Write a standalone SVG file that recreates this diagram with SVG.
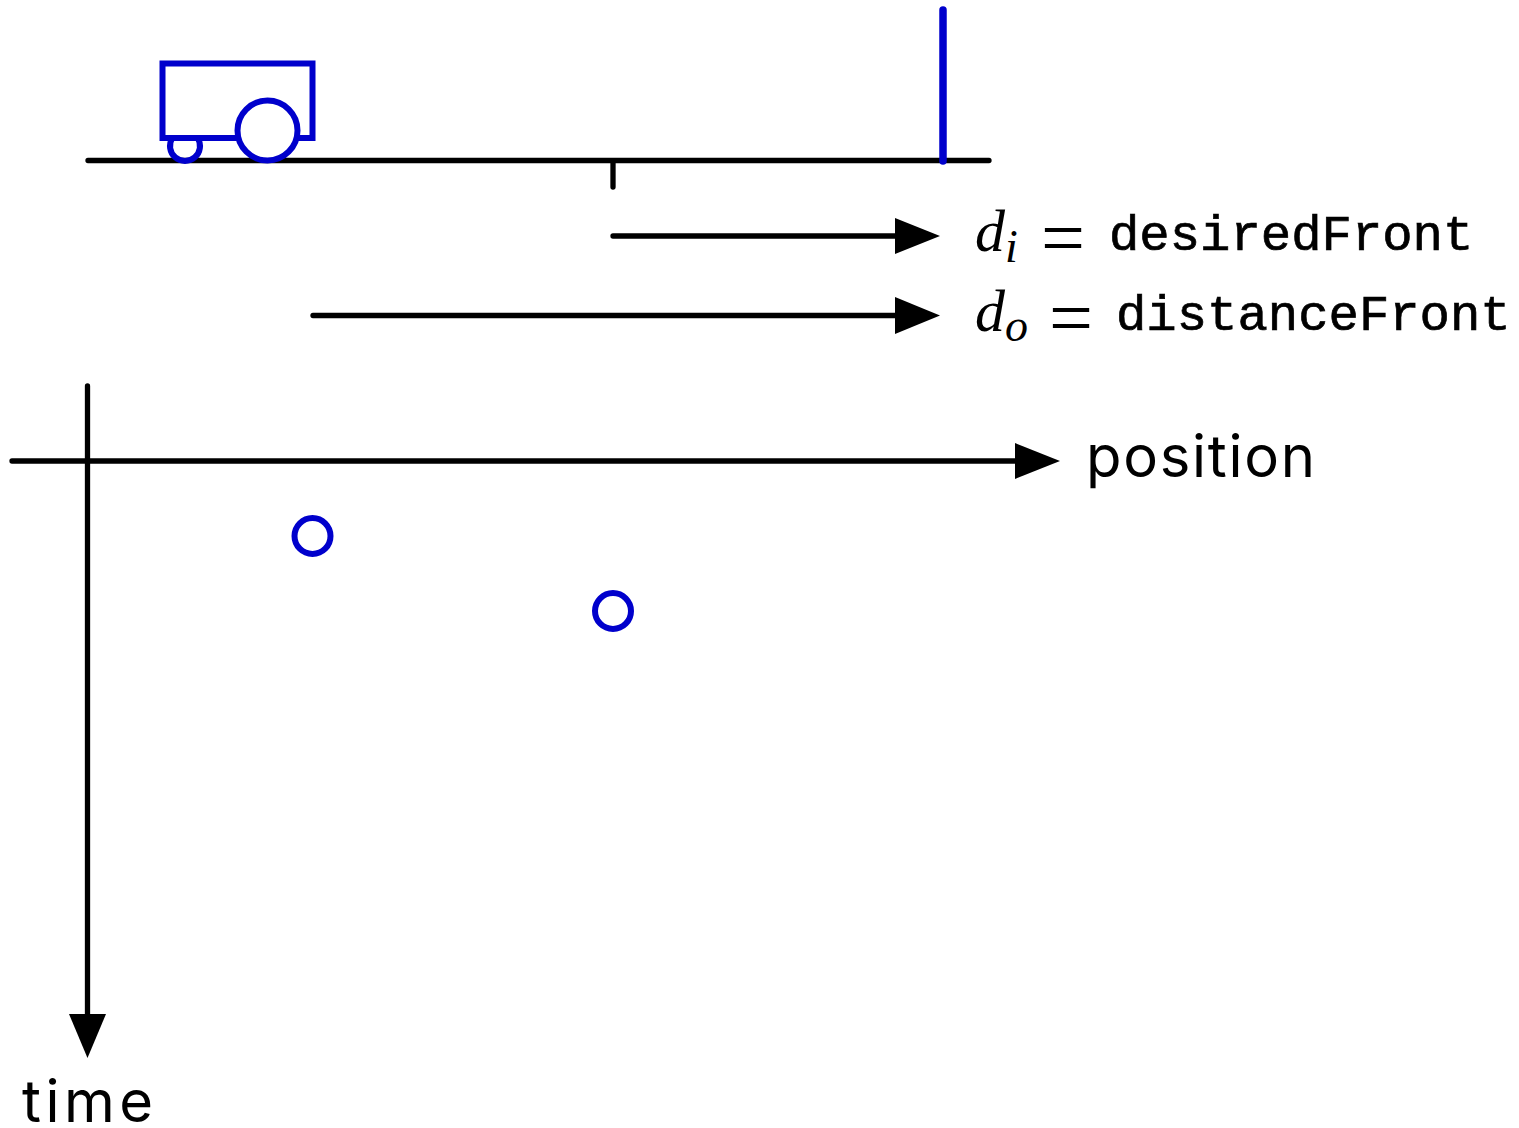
<svg xmlns="http://www.w3.org/2000/svg" width="1519" height="1128" viewBox="0 0 1519 1128">
<style>
.k{stroke:#000;stroke-width:5.3;fill:none;stroke-linecap:round}
.b{stroke:#0000cc;stroke-width:6;fill:none}
.ah{fill:#000;stroke:none}
.s{font-family:"Inter","Lato",sans-serif;font-size:58px;fill:#000;font-variant-ligatures:none}
.m{font-family:"Liberation Serif",serif;font-style:italic;font-size:60px;fill:#000}
.sub{font-family:"Liberation Serif",serif;font-style:italic;font-size:46px;fill:#000}
.eq{font-family:"Liberation Serif",serif;font-size:78px;fill:#000}
.t{font-family:"Liberation Mono",monospace;font-size:50.6px;fill:#000;stroke:#000;stroke-width:.7}
</style>
<g id="connectors">
<path class="k" d="M88 160.500H989M613 160.500V187"/>
<path class="k" d="M613 236H905"/><polygon class="ah" points="895,218 940,236 895,254"/>
<path class="k" d="M313 315.500H905"/><polygon class="ah" points="895,297 940,315.500 895,334"/>
<path class="k" d="M12 461H1025"/><polygon class="ah" points="1015,443 1060,461 1015,479"/>
<path class="k" d="M87.500 386V1025"/><polygon class="ah" points="69,1014 87.500,1058 106,1014"/>
</g>
<g id="cart">
<rect class="b" x="162.500" y="63.500" width="150" height="74.500"/>
<path class="b" d="M172.300 138A15 15 0 1 0 197.700 138"/>
<circle cx="267.500" cy="130.500" r="30" fill="#fff" stroke="#0000cc" stroke-width="6"/>
</g>
<g id="wall"><path d="M943 10V161" stroke="#0000cc" stroke-width="7.500" stroke-linecap="round" fill="none"/></g>
<g id="point1"><circle class="b" cx="312.500" cy="536" r="18"/></g>
<g id="point2"><circle class="b" cx="613" cy="611" r="18"/></g>
<g id="label-di"><text class="m" x="975" y="251">d</text><text class="sub" x="1005" y="262">i</text><text class="eq" x="1041" y="263.500">=</text><text class="t" x="1109" y="250">desiredFront</text></g>
<g id="label-do"><text class="m" x="975" y="331">d</text><text class="sub" x="1005" y="341">o</text><text class="eq" x="1049" y="344">=</text><text class="t" x="1116" y="330">distanceFront</text></g>
<g id="label-position"><text class="s" x="1086" y="477" textLength="229">position</text></g>
<g id="label-time"><text class="s" x="22" y="1122" textLength="131">time</text></g>
</svg>
